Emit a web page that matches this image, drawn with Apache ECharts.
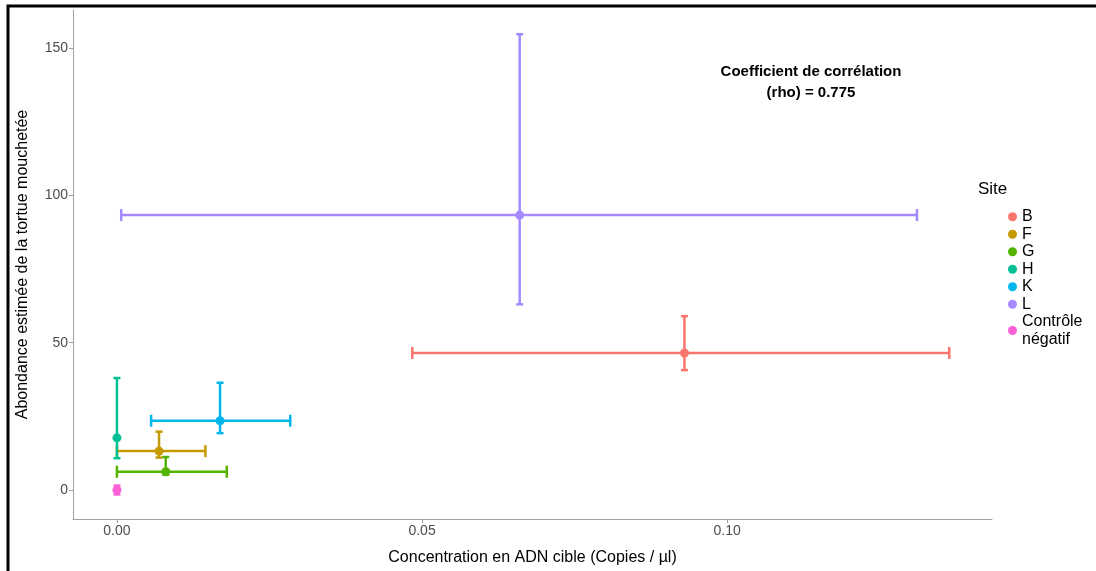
<!DOCTYPE html>
<html>
<head>
<meta charset="utf-8">
<script src="https://cdn.jsdelivr.net/npm/echarts@6/dist/echarts.min.js"></script>
<style>
  html, body { margin: 0; padding: 0; background: #fff; }
  #chart { width: 1096px; height: 571px; }
</style>
</head>
<body>
<div id="chart"></div>
<script>
// data
const sites = ['B', 'F', 'G', 'H', 'K', 'L', 'Contrôle\nnégatif']
const siteColors = ['#F8766D', '#C49A00', '#53B400', '#00C094', '#00B6EB', '#A58AFF', '#FB61D7']
const xMean = [0.0930, 0.0069, 0.0080, 0.0, 0.0169, 0.0660, 0.0]
const yMean = [46.5, 13.2, 6.2, 17.7, 23.5, 93.3, 0]
const xLow = [0.0484, 0.0, 0.0, 0.0, 0.0056, 0.0007, 0.0]
const xHigh = [0.1364, 0.0145, 0.0180, 0.0, 0.0284, 0.1311, 0.0]
const yLow = [40.7, 11.0, 5.2, 10.8, 19.3, 63.0, -1.5]
const yHigh = [59.0, 19.8, 11.2, 38.0, 36.4, 154.7, 1.5]
const xTicks = [0, 0.05, 0.1]
const yTicks = [0, 50, 100, 150]

const font = '"Liberation Sans", Arial, sans-serif'
const chart = echarts.init(document.getElementById('chart'))

const errorBars = (api) => {
  const x = api.value(0), y = api.value(1)
  const c = api.coord([x, y])
  const l = api.coord([api.value(2), y])
  const r = api.coord([api.value(3), y])
  const t = api.coord([x, api.value(5)])
  const b = api.coord([x, api.value(4)])
  const style = { stroke: api.visual('color'), lineWidth: 2.5 }
  const line = (x1, y1, x2, y2) => ({ type: 'line', shape: { x1, y1, x2, y2 }, style })
  const hCap = 6, vCap = 3.5
  const kids = [
    line(c[0], b[1], c[0], t[1]),
    line(c[0] - vCap, t[1], c[0] + vCap, t[1]),
    line(c[0] - vCap, b[1], c[0] + vCap, b[1]),
  ]
  if (r[0] - l[0] > 0.5) {
    kids.push(
      line(l[0], c[1], r[0], c[1]),
      line(l[0], c[1] - hCap, l[0], c[1] + hCap),
      line(r[0], c[1] - hCap, r[0], c[1] + hCap),
    )
  }
  return { type: 'group', children: kids }
}

const series = []
sites.forEach((s, i) => {
  series.push({
    name: s,
    type: 'custom',
    renderItem: (params, api) => errorBars(api),
    itemStyle: { color: siteColors[i] },
    encode: { x: 0, y: 1 },
    data: [[xMean[i], yMean[i], xLow[i], xHigh[i], yLow[i], yHigh[i]]],
    z: 2,
  })
  series.push({
    name: s,
    type: 'scatter',
    symbol: 'circle',
    symbolSize: 9,
    itemStyle: { color: siteColors[i], opacity: 1 },
    data: [[xMean[i], yMean[i]]],
    z: 3,
  })
})

chart.setOption({
  backgroundColor: '#fff',
  animation: false,
  grid: { left: 73, top: 10, right: 104, bottom: 52 },
  xAxis: {
    type: 'value',
    min: -0.0072,
    max: 0.1434,
    name: 'Concentration en ADN cible (Copies / µl)',
    nameLocation: 'middle',
    nameGap: 31,
    nameTextStyle: { color: '#000', fontSize: 16, fontFamily: font },
    axisLine: { onZero: false, lineStyle: { color: '#a0a0a0', width: 1 } },
    axisTick: { show: true, length: 4, lineStyle: { color: '#a0a0a0' }, customValues: xTicks },
    axisLabel: {
      color: '#4d4d4d', fontSize: 14, fontFamily: font, margin: 5,
      customValues: xTicks,
      formatter: (v) => v.toFixed(2),
    },
    splitLine: { show: false },
  },
  yAxis: {
    type: 'value',
    min: -9.84,
    max: 162.9,
    name: 'Abondance estimée de la tortue mouchetée',
    nameLocation: 'middle',
    nameGap: 42,
    nameTextStyle: { color: '#000', fontSize: 16, fontFamily: font },
    axisLine: { show: true, onZero: false, lineStyle: { color: '#a0a0a0', width: 1 } },
    axisTick: { show: true, length: 4, lineStyle: { color: '#a0a0a0' }, customValues: yTicks },
    axisLabel: { color: '#4d4d4d', fontSize: 14, fontFamily: font, margin: 5, customValues: yTicks },
    splitLine: { show: false },
  },
  legend: {
    data: sites.map((s, i) => ({ name: s, icon: 'circle', itemStyle: { color: siteColors[i] } })),
    orient: 'vertical',
    left: 1003,
    top: 203,
    itemWidth: 9,
    itemHeight: 9,
    itemGap: 0,
    selectedMode: false,
    textStyle: { color: '#000', fontSize: 16, fontFamily: font, lineHeight: 17.5, padding: [0, 0, 0, 0] },
  },
  graphic: [
    {
      type: 'text', left: 978, top: 181,
      style: { text: 'Site', fontSize: 17, fontFamily: font, fill: '#000' },
    },
    {
      type: 'text', x: 811, y: 61,
      style: {
        text: 'Coefficient de corrélation\n(rho) = 0.775',
        fontSize: 15, fontWeight: 'bold', fontFamily: font, fill: '#000',
        align: 'center', verticalAlign: 'top', lineHeight: 21,
      },
    },
    {
      type: 'polyline',
      shape: { points: [[8, 571], [8, 6], [1096, 6]] },
      style: { stroke: '#000', lineWidth: 3, fill: null },
      z: 10,
    },
  ],
  series,
})
</script>
</body>
</html>
